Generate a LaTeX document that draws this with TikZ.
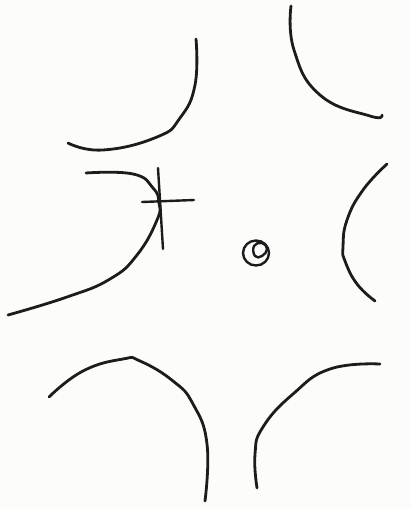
\documentclass[tikz,border=0pt]{standalone}
\usepackage{tikz}
\definecolor{sketchink}{HTML}{1C1C1C}
\definecolor{sketchpaper}{HTML}{FCFCFB}

\begin{document}
\begin{tikzpicture}[
        x=1pt, y=-1pt,
        pen/.style={
          draw=sketchink, line width=2.8pt,
          line cap=round, line join=round,
        },
        thin pen/.style={pen, line width=2.4pt},
      ]
      \fill[sketchpaper] (0,0) rectangle (411,508);
      \useasboundingbox (0,0) rectangle (411,508);

      % upper pair
      \draw[pen] plot[smooth, tension=0.8] coordinates
        {(196,39) (195,85) (180,118) (157,137) (103,150) (68,143)};
      \draw[pen] plot[smooth, tension=0.8] coordinates
        {(291,6) (294,50) (320,95) (370,116) (382,115)};

      % left branch with the cross
      \draw[pen] plot[smooth, tension=0.8] coordinates
        {(86,173) (133,174) (153,188) (159,203) (157,220)
         (137,255) (110,279) (67,297) (8,315)};
      \draw[thin pen] (158,168) -- (163,249);
      \draw[thin pen] (142,202) -- (194,200);

      % right branch
      \draw[pen] plot[smooth, tension=0.8] coordinates
        {(387,164) (363,190) (347,220) (343,247) (345,261) (357,284) (375,301)};

      % centre
      \draw[thin pen] (256,253) ellipse (13 and 12.5);
      \draw[thin pen] plot[smooth cycle, tension=0.8] coordinates
        {(254,246) (262,243) (267,249) (262,256) (255,256)};

      % lower pair
      \draw[pen] plot[smooth, tension=0.8] coordinates
        {(49,397) (83,371) (123,359) (140,361) (173,381) (193,404)
         (207,444) (205,501)};
      \draw[pen] plot[smooth, tension=0.8] coordinates
        {(257,488) (255,454) (263,427) (293,394) (330,369) (380,364)};
    \end{tikzpicture}
\end{document}
